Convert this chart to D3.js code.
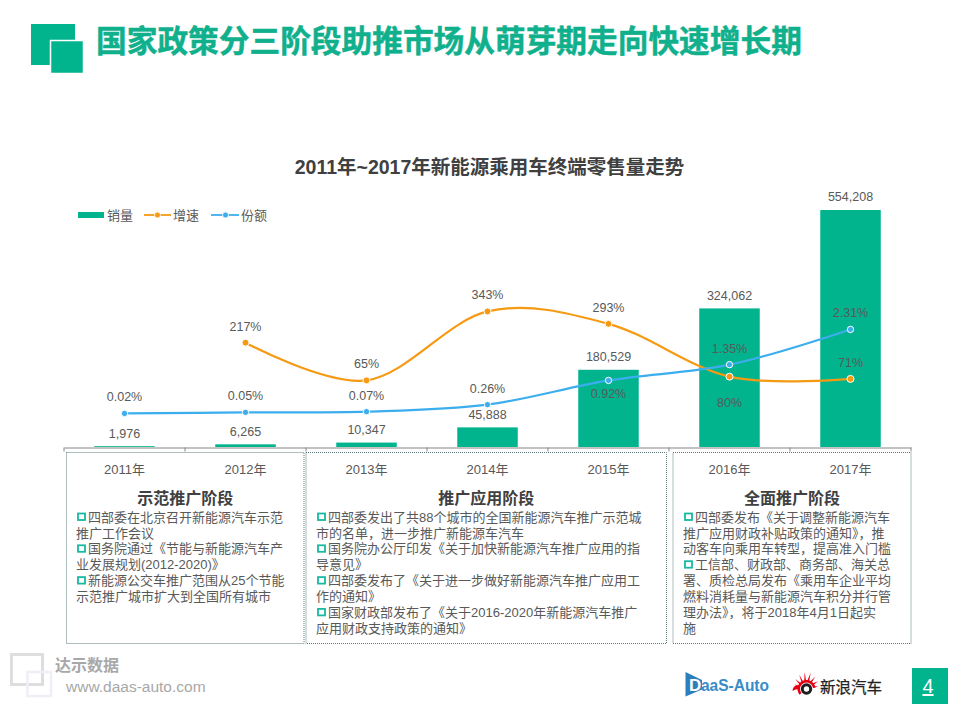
<!DOCTYPE html>
<html>
<head>
<meta charset="utf-8">
<script src="https://cdnjs.cloudflare.com/ajax/libs/d3/7.8.5/d3.min.js"></script>
<style>
html,body{margin:0;padding:0;background:#fff;}
text{font-family:"Liberation Sans","Noto Sans CJK SC",sans-serif;}
</style>
</head>
<body>
<div id="chartDiv"></div>
<script>
var years = ['2011年','2012年','2013年','2014年','2015年','2016年','2017年'];
var sales = [1976,6265,10347,45888,180529,324062,554208];
var growth = [null,217,65,343,293,80,71];
var share = [0.02,0.05,0.07,0.26,0.92,1.35,2.31];

var pageTitle = '国家政策分三阶段助推市场从萌芽期走向快速增长期';
var chartTitle = '2011年~2017年新能源乘用车终端零售量走势';

var stageNames = ['示范推广阶段','推广应用阶段','全面推广阶段'];
var stageFirst = ['2011年','2013年','2016年'];
var stageLast = ['2012年','2015年','2017年'];
// a leading * means the line starts with a bullet
var stageLines1 = ['*四部委在北京召开新能源汽车示范','推广工作会议','*国务院通过《节能与新能源汽车产','业发展规划(2012-2020)》','*新能源公交车推广范围从25个节能','示范推广城市扩大到全国所有城市'];
var stageLines2 = ['*四部委发出了共88个城市的全国新能源汽车推广示范城','市的名单，进一步推广新能源车汽车','*国务院办公厅印发《关于加快新能源汽车推广应用的指','导意见》','*四部委发布了《关于进一步做好新能源汽车推广应用工','作的通知》','*国家财政部发布了《关于2016-2020年新能源汽车推广','应用财政支持政策的通知》'];
var stageLines3 = ['*四部委发布《关于调整新能源汽车','推广应用财政补贴政策的通知》，推','动客车向乘用车转型，提高准入门槛','*工信部、财政部、商务部、海关总','署、质检总局发布《乘用车企业平均','燃料消耗量与新能源汽车积分并行管','理办法》，将于2018年4月1日起实','施'];

var green = '#02b48e', orange = '#f59a12', blue = '#3caeee', grey = '#595959';

var svg = d3.select('#chartDiv').append('svg')
	.attr('width',960)
	.attr('height',720)
	.style('display','block');

// header
svg.append('rect').attr('x',31).attr('y',24).attr('width',44).attr('height',41).attr('fill',green);
svg.append('rect').attr('x',50.5).attr('y',40.5).attr('width',33).attr('height',33).attr('fill',green).attr('stroke','#fff').attr('stroke-width',1.5);
svg.append('text').attr('x',96).attr('y',41).attr('dy','.36em')
	.attr('font-size',30.7).attr('font-weight','bold')
	.attr('fill','#10b08d').attr('stroke','#10b08d').attr('stroke-width',0.5)
	.text(pageTitle);

svg.append('text').attr('x',489.5).attr('y',167).attr('dy','.36em')
	.attr('text-anchor','middle').attr('font-size',19.5).attr('font-weight','bold')
	.attr('fill','#404040').text(chartTitle);

// scales
var x = d3.scaleBand().domain(years).range([64,911]).paddingInner(0).paddingOuter(0);
var barW = x.bandwidth()*0.5;
var cx = function(d){return x(d)+x.bandwidth()/2;};
var ySales = d3.scaleLinear().domain([0,600000]).range([447,190.4]);
var yGrowth = d3.scaleLinear().domain([0,400]).range([396.5,297.3]);
var yShare = d3.scaleLinear().domain([0,3]).range([414.2,304.1]);

// bars
svg.selectAll('.bar').data(years).enter().append('rect')
	.attr('class','bar')
	.attr('x',function(d){return cx(d)-barW/2;})
	.attr('width',barW)
	.attr('y',function(d,i){return ySales(sales[i]);})
	.attr('height',function(d,i){return ySales(0)-ySales(sales[i]);})
	.attr('fill',green);

// axis, ticks sit on the band edges
var axis = svg.append('g').attr('transform','translate(0,447.5)')
	.call(d3.axisBottom(x).tickSize(0).tickPadding(13));
axis.select('.domain').attr('stroke','#868686');
axis.selectAll('text').attr('font-size',13).attr('fill',grey)
	.attr('dy','1em')
	.style('font-family','"Liberation Sans","Noto Sans CJK SC",sans-serif');
axis.selectAll('.edge').data(d3.range(years.length+1)).enter().append('line')
	.attr('class','edge')
	.attr('x1',function(i){return 64+i*x.step();})
	.attr('x2',function(i){return 64+i*x.step();})
	.attr('y1',0).attr('y2',4).attr('stroke','#868686');

// lines
var growthPts = years.map(function(d,i){return {year:d,v:growth[i]};}).filter(function(d){return d.v!==null;});
var sharePts = years.map(function(d,i){return {year:d,v:share[i]};});

var growthLine = d3.line().curve(d3.curveCatmullRom.alpha(0))
	.x(function(d){return cx(d.year);}).y(function(d){return yGrowth(d.v);});
var shareLine = d3.line().curve(d3.curveCatmullRom.alpha(0))
	.x(function(d){return cx(d.year);}).y(function(d){return yShare(d.v);});

svg.append('path').attr('d',growthLine(growthPts)).attr('fill','none').attr('stroke',orange).attr('stroke-width',2.2);
svg.append('path').attr('d',shareLine(sharePts)).attr('fill','none').attr('stroke',blue).attr('stroke-width',2.2);

svg.selectAll('.growthDot').data(growthPts).enter().append('circle')
	.attr('class','growthDot')
	.attr('cx',function(d){return cx(d.year);}).attr('cy',function(d){return yGrowth(d.v);})
	.attr('r',3.5).attr('fill',orange).attr('stroke','#fff').attr('stroke-width',1);
svg.selectAll('.shareDot').data(sharePts).enter().append('circle')
	.attr('class','shareDot')
	.attr('cx',function(d){return cx(d.year);}).attr('cy',function(d){return yShare(d.v);})
	.attr('r',3.2).attr('fill',blue).attr('stroke','#fff').attr('stroke-width',1);

// labels
function label(cls,rows,fx,fy,ft){
	svg.selectAll('.'+cls).data(rows).enter().append('text')
		.attr('class',cls)
		.attr('x',fx).attr('y',fy).attr('dy','.35em')
		.attr('text-anchor','middle').attr('font-size',12.5).attr('fill',grey)
		.text(ft);
}
var fmt = d3.format(',');
label('salesLabel',years,cx,function(d,i){return ySales(sales[i])-13;},function(d,i){return fmt(sales[i]);});
label('growthLabel',growthPts,function(d){return cx(d.year);},
	function(d){return yGrowth(d.v)+(d.year==='2016年'?25.5:-16.5);},
	function(d){return d.v+'%';});
label('shareLabel',sharePts,function(d){return cx(d.year);},
	function(d){return yShare(d.v)+(d.year==='2015年'?13.5:-16.5);},
	function(d){return d3.format('.2f')(d.v)+'%';});

// legend
var legend = svg.append('g');
legend.append('rect').attr('x',78).attr('y',212).attr('width',26).attr('height',6).attr('fill',green);
legend.append('text').attr('x',107).attr('y',215).attr('dy','.35em').attr('font-size',13).attr('fill',grey).text('销量');
legend.append('line').attr('x1',144).attr('x2',171).attr('y1',215).attr('y2',215).attr('stroke',orange).attr('stroke-width',1.8);
legend.append('circle').attr('cx',157.5).attr('cy',215).attr('r',3).attr('fill',orange).attr('stroke','#fff').attr('stroke-width',0.8);
legend.append('text').attr('x',173).attr('y',215).attr('dy','.35em').attr('font-size',13).attr('fill',grey).text('增速');
legend.append('line').attr('x1',211).attr('x2',239).attr('y1',215).attr('y2',215).attr('stroke',blue).attr('stroke-width',1.8);
legend.append('circle').attr('cx',225.5).attr('cy',215).attr('r',3).attr('fill',blue).attr('stroke','#fff').attr('stroke-width',0.8);
legend.append('text').attr('x',241).attr('y',215).attr('dy','.35em').attr('font-size',13).attr('fill',grey).text('份额');

// stage panels
var stageLines = [stageLines1,stageLines2,stageLines3];
var textX = [76,316,683];
var insetL = [2.5,0,4];
var insetR = [2,2.5,0];
stageNames.forEach(function(name,s){
	var left = x(stageFirst[s])+insetL[s];
	var right = x(stageLast[s])+x.bandwidth()-insetR[s];
	var g = svg.append('g');
	g.append('rect')
		.attr('x',left).attr('y',452.5)
		.attr('width',right-left).attr('height',191)
		.attr('fill','none').attr('stroke','#5d7a7a').attr('stroke-dasharray','1,1');
	g.append('text').attr('x',(left+right)/2).attr('y',498).attr('dy','.36em')
		.attr('text-anchor','middle').attr('font-size',16).attr('font-weight','bold')
		.attr('fill','#404040').text(name);
	var rows = g.selectAll('.row').data(stageLines[s]).enter().append('g').attr('class','row')
		.attr('transform',function(d,i){return 'translate('+textX[s]+','+(517+i*15.9)+')';});
	rows.append('text')
		.attr('x',function(d){return d.charAt(0)==='*'?12:0;})
		.attr('dy','.36em').attr('font-size',13).attr('fill',grey)
		.text(function(d){return d.replace('*','');});
	rows.filter(function(d){return d.charAt(0)==='*';}).append('rect')
		.attr('x',2).attr('y',-3.5).attr('width',7).attr('height',6.5)
		.attr('fill','#fff').attr('stroke','#18b9a0').attr('stroke-width',1.8);
});

// footer
svg.append('rect').attr('x',11.5).attr('y',654.5).attr('width',31).attr('height',30).attr('fill','none').attr('stroke','#dedede').attr('stroke-width',3);
svg.append('rect').attr('x',27.5).attr('y',672).attr('width',23.5).attr('height',24).attr('fill','none').attr('stroke','#eef0f6').attr('stroke-width',2.5);
svg.append('text').attr('x',55).attr('y',665).attr('dy','.36em').attr('font-size',16).attr('font-weight','bold').attr('fill','#a8a8a8').text('达示数据');
svg.append('text').attr('x',66).attr('y',687).attr('dy','.35em').attr('font-size',15.5).attr('fill','#a8a8a8').text('www.daas-auto.com');

// DaaS-Auto mark
var daas = svg.append('g');
daas.append('path').attr('d','M685.5,672 L702,680 L702,689.5 L685.5,696.5 Z').attr('fill','#2b7fbd');
daas.append('text').attr('x',689).attr('y',690.5).attr('font-size',17).attr('font-weight','bold').attr('fill','#fff').text('D');
daas.append('text').attr('x',701).attr('y',690.5).attr('font-size',17).attr('font-weight','bold').attr('fill','#3a8cc8')
	.attr('textLength',68).attr('lengthAdjust','spacingAndGlyphs').text('aaS-Auto');

// Sina mark
var sina = svg.append('g').attr('transform','translate(806.5,689)');
var tipR = [13,15,16,17,17,15,14,12];
tipR.forEach(function(r,i){
	var a = (195+i*21)*Math.PI/180, w = 0.2;
	var p = [[Math.cos(a-w)*6,Math.sin(a-w)*6],[Math.cos(a+0.1)*r,Math.sin(a+0.1)*r],[Math.cos(a+w)*6,Math.sin(a+w)*6]];
	sina.append('path').attr('d',d3.line()(p)+'Z').attr('fill','#e60012');
});
sina.append('path').attr('d',d3.arc()({innerRadius:6,outerRadius:9,startAngle:-Math.PI*0.72,endAngle:Math.PI*0.45})).attr('fill','#e60012');
sina.append('path').attr('d','M-7,-4 Q-14,-4 -14,2 Q-10,-1 -6.5,1 Z').attr('fill','#e60012');
sina.append('circle').attr('r',6.5).attr('fill','#fff');
sina.append('circle').attr('r',4.2).attr('fill','none').attr('stroke','#1e1e1e').attr('stroke-width',3);
svg.append('text').attr('x',820).attr('y',687).attr('dy','.36em').attr('font-size',15.5).attr('fill','#222')
	.attr('stroke','#222').attr('stroke-width',0.25).text('新浪汽车');

// page number
svg.append('rect').attr('x',912).attr('y',668).attr('width',36).attr('height',36).attr('fill',green);
svg.append('text').attr('x',928).attr('y',686).attr('dy','.35em').attr('text-anchor','middle')
	.attr('font-size',20).attr('fill','#fff').attr('text-decoration','underline').text('4');
</script>
</body>
</html>
